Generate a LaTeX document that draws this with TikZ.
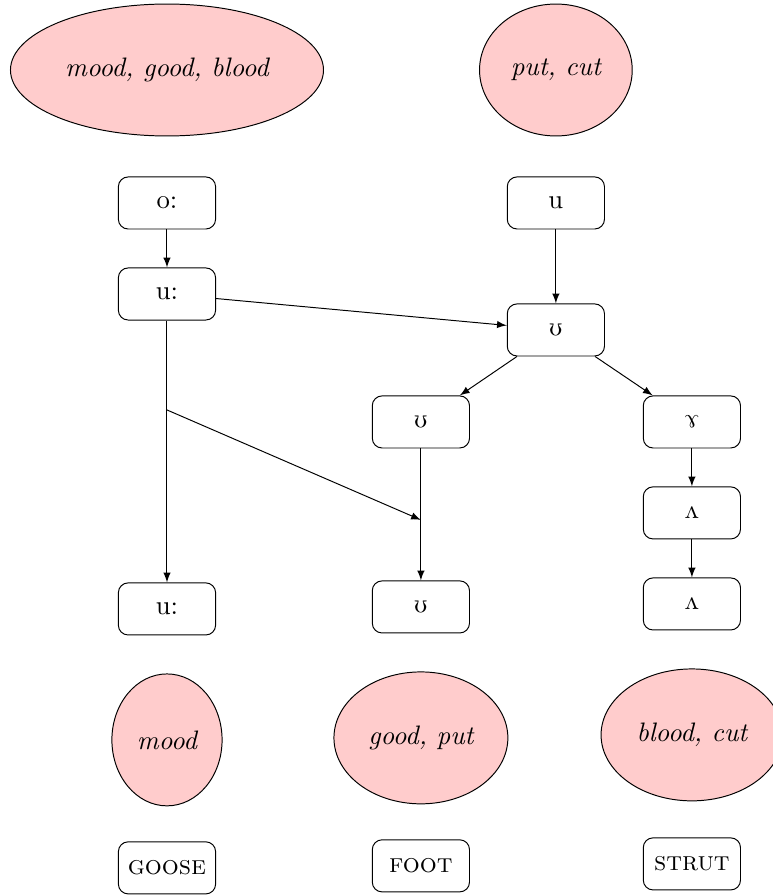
\documentclass[11pt,tikz,border=0pt]{standalone}
\usepackage{tipa}
\usepackage{tikz}
\usetikzlibrary{arrows}
\usetikzlibrary{positioning}
\usetikzlibrary{shapes.geometric}

\begin{document}
\begin{tikzpicture}
    [words/.style={ellipse, draw, fill=red!20, minimum height=1.9cm, font=\itshape},
    vowel/.style={rectangle, rounded corners, draw, minimum width=1.4cm, minimum height=0.75cm},
    lexset/.style={rectangle, rounded corners, draw, minimum width=1.4cm, minimum height=0.75cm, font=\scshape},
    change/.style={-latex}]
  \useasboundingbox (0,0) rectangle (11.12,-12.89);
  % top: sources
  \node [words] (src1) at (2.405,-1.008) {mood, good, blood};
  \node [words] (src2) at (8.006,-1.008) {put, cut};
  \node [vowel] (oo) at (2.405,-2.923) {o:};
  \node [vowel] (uA) at (2.405,-4.234) {u:};
  \node [vowel] (u) at (8.006,-2.923) {u};
  \node [vowel] (upsA) at (8.006,-4.752) {\textipa{U}};
  \node [vowel] (upsB) at (6.062,-6.077) {\textipa{U}};
  \node [vowel] (ram) at (9.965,-6.077) {\textipa{7}};
  \node [vowel] (wedgeA) at (9.965,-7.387) {\textipa{2}};
  % bottom: results
  \node [vowel] (uB) at (2.405,-8.770) {u:};
  \node [vowel] (upsC) at (6.062,-8.741) {\textipa{U}};
  \node [vowel] (wedgeB) at (9.965,-8.698) {\textipa{2}};
  \node [words] (res1) at (2.405,-10.656) {mood};
  \node [words] (res2) at (6.062,-10.627) {good, put};
  \node [words] (res3) at (9.965,-10.584) {blood, cut};
  \node [lexset] (goose) at (2.405,-12.499) {goose};
  \node [lexset] (foot) at (6.062,-12.470) {foot};
  \node [lexset] (strut) at (9.965,-12.442) {strut};
  \coordinate (split) at (2.405,-5.904);
  \coordinate (merge) at (6.062,-7.488);
  \draw [change] (oo) -- (uA);
  \draw [change] (uA) -- (upsA);
  \draw [change] (u) -- (upsA);
  \draw [change] (upsA) -- (upsB);
  \draw [change] (upsA) -- (ram);
  \draw [change] (ram) -- (wedgeA);
  \draw [change] (wedgeA) -- (wedgeB);
  \draw [change] (upsB) -- (upsC);
  \draw [change] (uA) -- (uB);
  \draw [change] (split) -- (merge);
\end{tikzpicture}
\end{document}
